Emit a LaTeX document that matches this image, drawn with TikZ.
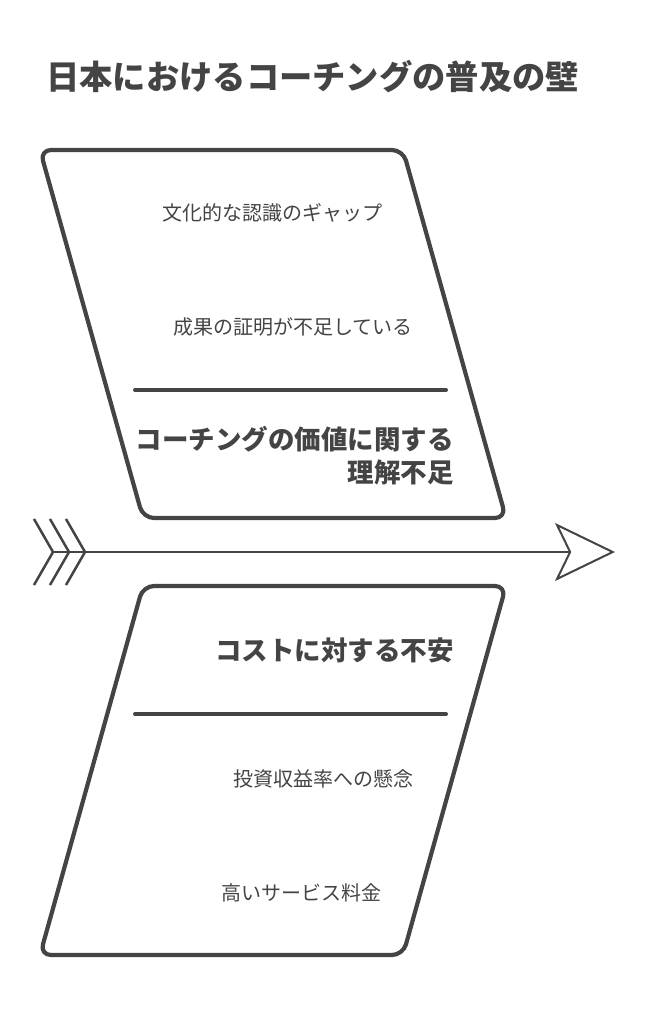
\documentclass[tikz,border=0pt]{standalone}
\usepackage{fontspec}
\setmainfont{Noto Sans CJK JP}
\usetikzlibrary{arrows.meta}
\definecolor{ink}{HTML}{444444}

\begin{document}
\begin{tikzpicture}[x = 1pt, y = -1pt,
    box/.style = {draw = ink, line width = 4.2pt, rounded corners = 11pt, line join = round},
    divider/.style = {draw = ink, line width = 4pt, line cap = round},
    item/.style = {text = ink, font = \fontsize{20}{24}\selectfont, inner sep = 0},
    head/.style = {text = ink, font = \bfseries\fontsize{26.5}{33}\selectfont, inner sep = 0, align = right},
    spine/.style = {draw = ink, line width = 2pt},
    ]
    \useasboundingbox (0, 0) rectangle (649, 1024);

    \node[text = ink, font = \bfseries\fontsize{33.3}{40}\selectfont, inner sep = 0, anchor = west] (title) at (46, 77) {日本におけるコーチングの普及の壁};

    % upper bone
    \coordinate (A1) at (40, 150);
    \coordinate (A2) at (403, 150);
    \coordinate (A3) at (506, 518);
    \coordinate (A4) at (143, 518);
    \draw[box] (A1) -- (A2) -- (A3) -- (A4) -- cycle;
    \node[item] (gap) at (272, 213) {文化的な認識のギャップ};
    \node[item] (proof) at (293, 327) {成果の証明が不足している};
    \coordinate (dA1) at (135, 390);
    \coordinate (dA2) at (446, 390);
    \draw[divider] (dA1) -- (dA2);
    \node[head, anchor = east] (value) at (454, 456) {コーチングの価値に関する\\理解不足};

    % lower bone
    \coordinate (B1) at (143, 586);
    \coordinate (B2) at (506, 586);
    \coordinate (B3) at (403, 955);
    \coordinate (B4) at (40, 955);
    \draw[box] (B1) -- (B2) -- (B3) -- (B4) -- cycle;
    \node[head, anchor = east] (cost) at (454, 650) {コストに対する不安};
    \coordinate (dB1) at (135, 714);
    \coordinate (dB2) at (446, 714);
    \draw[divider] (dB1) -- (dB2);
    \node[item] (roi) at (323, 779) {投資収益率への懸念};
    \node[item] (fee) at (301, 893) {高いサービス料金};

    % spine
    \coordinate (tail) at (53, 552);
    \coordinate (tip) at (615, 552);
    \draw[spine, -{Stealth[open, length = 60pt, width = 58pt, inset = 14pt, fill = white]}] (tail) -- (tip);
    \foreach \i in {0, 1, 2}
        \draw[spine, line width = 2.5pt] ({34 + 16*\i}, 519) -- ({53 + 16*\i}, 552) -- ({34 + 16*\i}, 585);
\end{tikzpicture}
\end{document}
